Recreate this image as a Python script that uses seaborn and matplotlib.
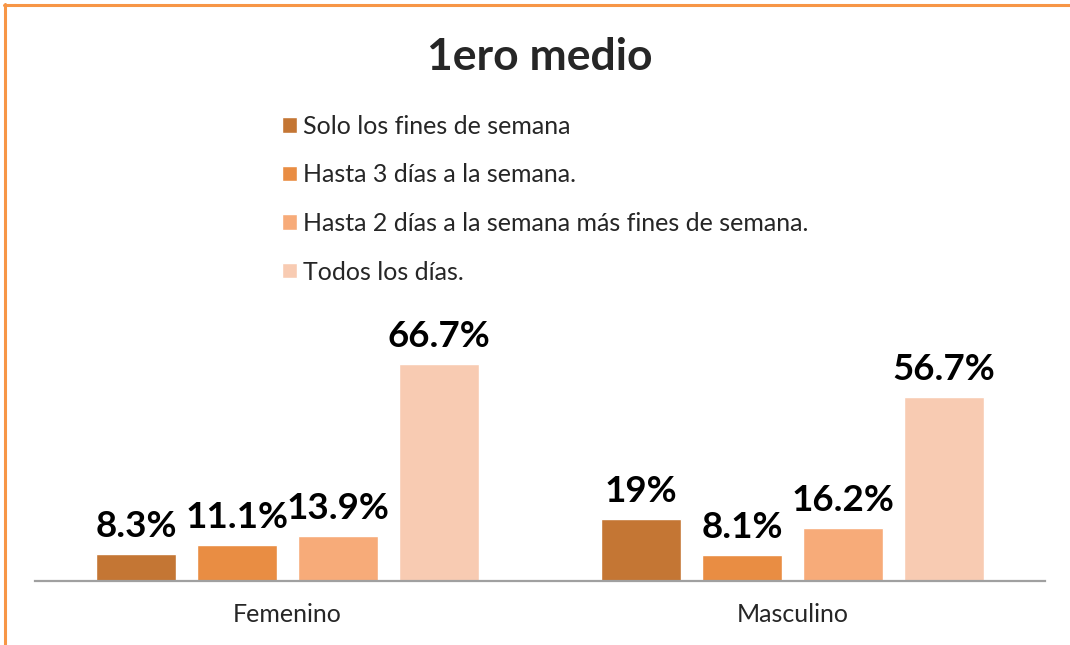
import matplotlib
matplotlib.use('Agg')
import matplotlib.pyplot as plt
from matplotlib.lines import Line2D
import pandas as pd
import seaborn as sns

# data
groups = ['Femenino', 'Masculino']
series = ['Solo los fines de semana',
          'Hasta 3 días a la semana.',
          'Hasta 2 días a la semana más fines de semana.',
          'Todos los días.']
femenino = [8.3, 11.1, 13.9, 66.7]
masculino = [19, 8.1, 16.2, 56.7]
colors = ['#C47634', '#E98D43', '#F7AB79', '#F8CBB2']

rows = []
for g, vals in zip(groups, [femenino, masculino]):
    for s, v in zip(series, vals):
        rows.append({'grupo': g, 'serie': s, 'valor': v})
df = pd.DataFrame(rows)

sns.set_style('white')
plt.rcParams['font.family'] = ['Lato', 'DejaVu Sans']

W, H = 1070, 645
fig = plt.figure(figsize=(W / 100, H / 100), dpi=100)
# axes placed in pixel terms: baseline at y=581, x from 35 to 1045
ax = fig.add_axes([35 / W, (H - 581) / H, 1010 / W, 281 / H])

sns.barplot(data=df, x='grupo', y='valor', hue='serie', hue_order=series,
            palette=colors, width=0.8, gap=0.2, saturation=1, ax=ax,
            legend=True)

ax.set_xlim(-0.5, 1.5)
ax.set_ylim(0, 281 / 3.25)
ax.set_xlabel('')
ax.set_ylabel('')
ax.set_yticks([])
ax.tick_params(axis='x', length=0, pad=16, labelsize=18)
for s in ['left', 'top', 'right']:
    ax.spines[s].set_visible(False)
ax.spines['bottom'].set_color('#A0A0A0')
ax.spines['bottom'].set_linewidth(1.6)

# value labels above bars
for cont in ax.containers:
    ax.bar_label(cont, labels=[f'{v:g}%' for v in cont.datavalues],
                 padding=8, fontsize=26.5, fontweight='bold', color='black')

# legend in the upper part of the figure
handles, labels = ax.get_legend_handles_labels()
ax.legend(handles, labels, loc='upper left',
          bbox_to_anchor=(282 / W, (H - 115) / H),
          bbox_transform=fig.transFigure, frameon=False, fontsize=18,
          handlelength=0.58, handleheight=0.58, handletextpad=0.25,
          labelspacing=1.02, borderpad=0, borderaxespad=0)

fig.text(540 / W, (H - 57) / H, '1ero medio', ha='center', va='center',
         fontsize=32, fontweight='bold')

# orange frame on top and left edge
border = '#F79646'
fig.add_artist(Line2D([4 / W, 1], [(H - 4.5) / H] * 2, color=border,
                      lw=2.2, transform=fig.transFigure))
fig.add_artist(Line2D([5 / W] * 2, [0, (H - 4) / H], color=border,
                      lw=2.2, transform=fig.transFigure))

plt.savefig('out.png', dpi=100)
plt.close()
